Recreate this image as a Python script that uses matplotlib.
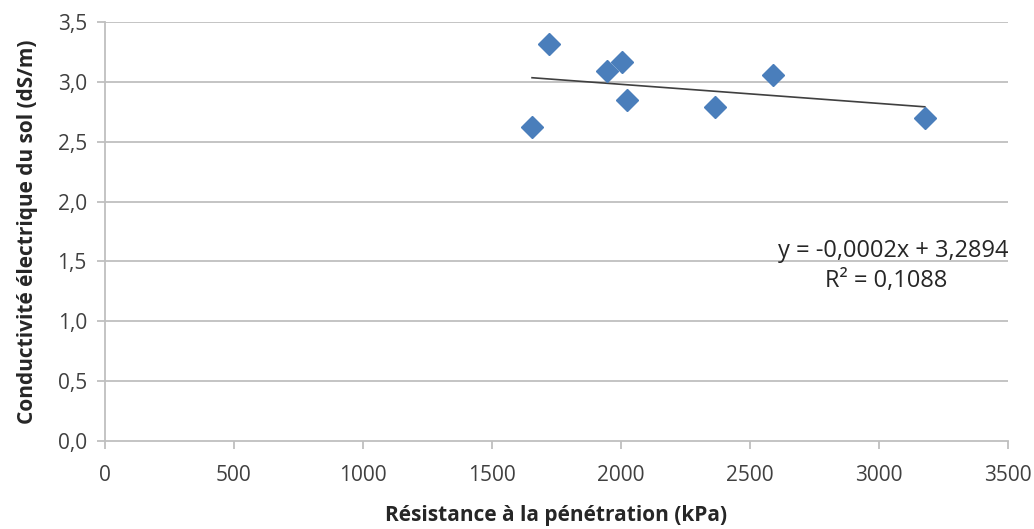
import matplotlib
matplotlib.use("Agg")
import matplotlib.pyplot as plt
import numpy as np

plt.rcParams['font.family'] = ['Open Sans', 'DejaVu Sans']

resistance = [1721, 1655, 1946, 2002, 2022, 2363, 2589, 3177]
conductivity = [3.32, 2.62, 3.09, 3.17, 2.85, 2.79, 3.06, 2.70]
x_ticks = [0, 500, 1000, 1500, 2000, 2500, 3000, 3500]
y_ticks = [0.0, 0.5, 1.0, 1.5, 2.0, 2.5, 3.0, 3.5]
equation = "y = -0,0002x + 3,2894"
r2_text = "R² = 0,1088"
xlabel = "Résistance à la pénétration (kPa)"
ylabel = "Conductivité électrique du sol (dS/m)"

fig = plt.figure(figsize=(10.34, 5.29), dpi=100)
ax = fig.add_axes([0.1015, 0.1664, 0.8735, 0.792])

grid_c = '#BFBFBF'
for yv in y_ticks[1:]:
    ax.axhline(yv, color=grid_c, lw=1.3, zorder=0)

xs = np.array(resistance)
ys = np.array(conductivity)
m, b = np.polyfit(xs, ys, 1)
xl = np.array([xs.min(), xs.max()])
ax.plot(xl, m * xl + b, color='#404040', lw=1.2, zorder=2)

ax.plot(xs, ys, linestyle='none', marker='D', ms=11, color='#4A7EBB',
        markeredgecolor='#4A7EBB', zorder=3)

ax.set_xlim(0, 3500)
ax.set_ylim(0, 3.5)
ax.set_xticks(x_ticks)
ax.set_xticklabels([str(v) for v in x_ticks], fontsize=15, color='#404040')
ax.set_yticks(y_ticks)
ax.set_yticklabels([f"{v:.1f}".replace('.', ',') for v in y_ticks], fontsize=15, color='#404040')

for s in ['top', 'right']:
    ax.spines[s].set_visible(False)
for s in ['left', 'bottom']:
    ax.spines[s].set_color(grid_c)
    ax.spines[s].set_linewidth(1.3)
ax.tick_params(axis='both', direction='out', length=6, color=grid_c, width=1.3)
ax.tick_params(axis='x', pad=11)
ax.tick_params(axis='y', pad=7)

ax.set_xlabel(xlabel, fontsize=15, fontweight='bold', color='#262626', labelpad=14)
ax.set_ylabel(ylabel, fontsize=15, fontweight='bold', color='#262626', labelpad=14)

ax.text(3500, 1.49, equation, ha='right', va='bottom', fontsize=17, color='#262626')
ax.text(3265, 1.44, r2_text, ha='right', va='top', fontsize=17, color='#262626')

fig.savefig('out.png', dpi=100)
